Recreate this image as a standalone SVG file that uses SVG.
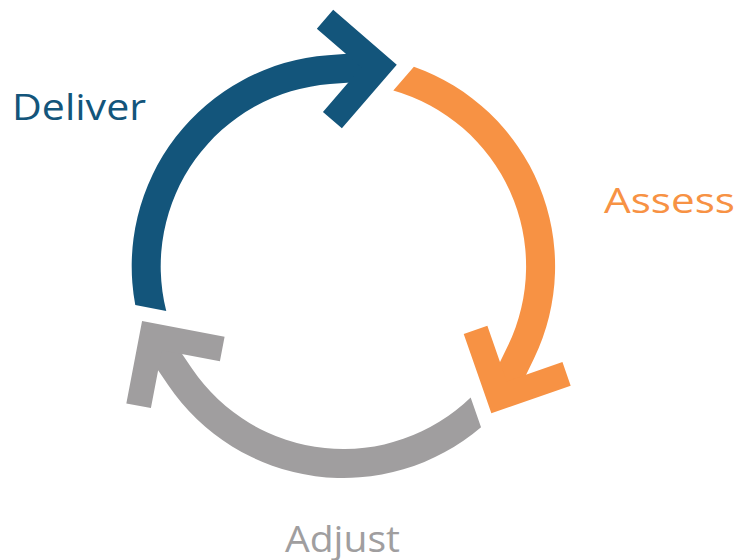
<svg xmlns="http://www.w3.org/2000/svg" width="737" height="560" viewBox="0 0 737 560">
  <style>
    .label { font-family: "Open Sans", "Lato", "Liberation Sans", sans-serif; font-weight: 400; }
    .blue { fill: #13557B; }
    .orange { fill: #F79244; }
    .grey { fill: #A09E9F; }
  </style>
  <defs>
    <!-- One cycle segment, drawn around the origin with its arrowhead at the top:
         a ring band (r 182.7 to 211.7), a short straight run along the tangent,
         and a square chevron head. The start is cut parallel to the previous head. -->
    <g id="segment">
      <path d="M -210.40 23.42 A 211.7 211.7 0 0 1 0 -211.7 L 45 -211.7 L 45 -182.7 L 0 -182.7 A 182.7 182.7 0 0 0 -179.95 31.57 Z"/>
      <polygon points="68,-197.2 8.6,-256.6 -9.1,-238.9 32.6,-197.2 -9.1,-155.5 8.6,-137.8"/>
    </g>
  </defs>

  <g id="connectors">
    <g id="arrow-deliver" class="blue" transform="translate(343.4 266.3) rotate(-4.2)">
      <use href="#segment"/>
    </g>
    <g id="arrow-assess" class="orange" transform="translate(343.4 266.3) rotate(115.8)">
      <use href="#segment"/>
    </g>
    <g id="arrow-adjust" class="grey" transform="translate(343.4 266.3) rotate(235.8)">
      <use href="#segment"/>
    </g>
  </g>

  <g id="node-deliver">
    <text class="label blue" x="12" y="119.5" font-size="37" textLength="134" lengthAdjust="spacingAndGlyphs">Deliver</text>
  </g>
  <g id="node-assess">
    <text class="label orange" x="604" y="212.7" font-size="35.5" textLength="131" lengthAdjust="spacingAndGlyphs">Assess</text>
  </g>
  <g id="node-adjust">
    <text class="label grey" x="285" y="551.7" font-size="36.4" textLength="115" lengthAdjust="spacingAndGlyphs">Adjust</text>
  </g>
</svg>
